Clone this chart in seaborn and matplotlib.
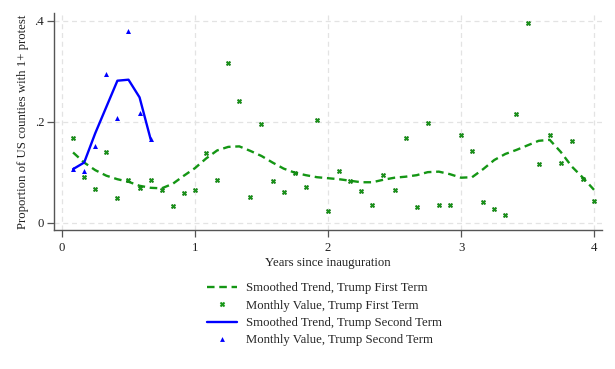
import numpy as np
import pandas as pd
import matplotlib
matplotlib.use("Agg")
import matplotlib.pyplot as plt
from matplotlib.lines import Line2D
import seaborn as sns

# ---- data ----
months_first = list(range(1, 49))
first_monthly = [0.168, 0.090, 0.067, 0.140, 0.048, 0.084, 0.068, 0.084, 0.065, 0.033, 0.058, 0.065,
                 0.137, 0.085, 0.317, 0.241, 0.050, 0.196, 0.083, 0.061, 0.099, 0.071, 0.204, 0.023,
                 0.102, 0.083, 0.062, 0.034, 0.094, 0.065, 0.168, 0.031, 0.197, 0.034, 0.034, 0.174,
                 0.142, 0.040, 0.028, 0.015, 0.216, 0.396, 0.116, 0.174, 0.119, 0.161, 0.086, 0.043]
first_smooth = [0.139, 0.119, 0.104, 0.093, 0.086, 0.081, 0.073, 0.069, 0.068, 0.077, 0.093, 0.108,
                0.127, 0.143, 0.150, 0.151, 0.142, 0.132, 0.119, 0.107, 0.099, 0.094, 0.090, 0.088,
                0.086, 0.083, 0.080, 0.080, 0.085, 0.089, 0.091, 0.094, 0.100, 0.101, 0.096, 0.089,
                0.090, 0.106, 0.124, 0.136, 0.144, 0.153, 0.162, 0.164, 0.140, 0.111, 0.089, 0.065]
months_second = [1, 2, 3, 4, 5, 6, 7, 8]
second_monthly = [0.106, 0.103, 0.152, 0.294, 0.207, 0.380, 0.217, 0.165]
second_smooth = [0.106, 0.119, 0.177, 0.229, 0.281, 0.283, 0.248, 0.165]

x_ticks = [0, 1, 2, 3, 4]
y_ticks = [0, 0.2, 0.4]
y_ticklabels = ["0", ".2", ".4"]
legend_labels = ["Smoothed Trend, Trump First Term", "Monthly Value, Trump First Term",
                 "Smoothed Trend, Trump Second Term", "Monthly Value, Trump Second Term"]

df1 = pd.DataFrame({"years": np.array(months_first) / 12, "monthly": first_monthly, "smooth": first_smooth})
df2 = pd.DataFrame({"years": np.array(months_second) / 12, "monthly": second_monthly, "smooth": second_smooth})

GREEN = "#149614"
BLUE = "#0000ff"
FS = 9.2

sns.set_theme(style="white")
plt.rcParams["font.family"] = ["Liberation Serif", "DejaVu Serif"]
plt.rcParams["font.size"] = FS

fig = plt.figure(figsize=(6.15, 3.69), dpi=100)
ax = fig.add_axes([54 / 615, 1 - 230 / 369, (602 - 54) / 615, (230 - 13) / 369])

sns.lineplot(data=df1, x="years", y="smooth", ax=ax, color=GREEN, lw=1.7,
             zorder=3).lines[-1].set_dashes((3.2, 2.0))
sns.scatterplot(data=df1, x="years", y="monthly", ax=ax, color=GREEN, marker="X", s=11,
                linewidth=0.3, edgecolor="#0b6e0b", zorder=4)
sns.lineplot(data=df2, x="years", y="smooth", ax=ax, color=BLUE, lw=1.7, zorder=5)
sns.scatterplot(data=df2, x="years", y="monthly", ax=ax, color=BLUE, marker="^", s=13,
                linewidth=0, zorder=6)

ax.set_xlim(-0.06, 4.06)
ax.set_ylim(-0.0145, 0.415)
ax.set_xticks(x_ticks)
ax.set_xticklabels([str(t) for t in x_ticks], fontsize=FS)
ax.set_yticks(y_ticks)
ax.set_yticklabels(y_ticklabels, fontsize=FS)
ax.grid(True, color="#e3e3e3", linestyle=(0, (4, 3)), linewidth=0.9)
ax.set_axisbelow(True)
for s in ["top", "right"]:
    ax.spines[s].set_visible(False)
for s in ["left", "bottom"]:
    ax.spines[s].set_color("#555555")
    ax.spines[s].set_linewidth(1.0)
ax.tick_params(axis="both", which="major", direction="out", length=5, width=0.9,
               color="#555555", labelcolor="#222222", bottom=True, left=True)
ax.tick_params(axis="y", pad=2)
ax.tick_params(axis="x", pad=4)
ax.set_xlabel("Years since inauguration", fontsize=FS, color="#222222", labelpad=2)
ax.set_ylabel("Proportion of US counties with 1+ protest", fontsize=FS, color="#222222", labelpad=4)

handles = [
    Line2D([], [], color=GREEN, lw=1.7, dashes=(3.2, 2.0)),
    Line2D([], [], color=GREEN, marker="X", markersize=3.5, lw=0, markeredgewidth=0.3),
    Line2D([], [], color=BLUE, lw=1.7),
    Line2D([], [], color=BLUE, marker="^", markersize=3.5, lw=0, markeredgewidth=0),
]
fig.legend(handles, legend_labels, loc="upper center", bbox_to_anchor=(0.527, 1 - 276 / 369),
           frameon=False, fontsize=FS, handlelength=2.4, handletextpad=0.65,
           labelspacing=0.42, borderpad=0)

fig.savefig("out.png", dpi=100, facecolor="white")
